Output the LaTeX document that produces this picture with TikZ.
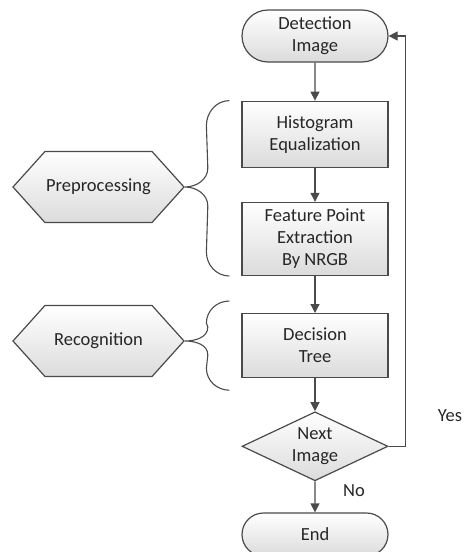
\documentclass[tikz,border=0pt]{standalone}
\usepackage{fontspec}
\setmainfont{Carlito}
\usetikzlibrary{positioning,shapes.geometric,shapes.misc,shapes.symbols,arrows.meta}
\definecolor{edgegray}{HTML}{4A4A4A}
\definecolor{textgray}{HTML}{262626}

\begin{document}
\begin{tikzpicture}[x=1pt,y=1pt,
				every node/.style={font=\fontsize{18.5}{22}\selectfont,text=textgray,align=center},
				box/.style={rectangle,draw=edgegray,line width=1.2pt,top color=white,bottom color=black!14,minimum width=146pt,inner sep=0pt},
				term/.style={box,rounded rectangle},
				decision/.style={box,diamond,aspect=2,minimum height=69pt},
				hexa/.style={box,signal,signal to=west and east,signal pointer angle=96,minimum width=171pt,minimum height=71pt},
				arrow/.style={draw=edgegray,line width=1.2pt,-{Triangle[length=9pt,width=9pt]}},
				brace/.style={draw=edgegray,line width=1.1pt}]
\useasboundingbox (0,0) rectangle (470,-552);
% main column
\node[term,minimum height=52pt] (det) at (315,-36) {Detection\\Image};
\node[box,minimum height=66pt,below=38pt of det] (hist) {Histogram\\Equalization};
\node[box,minimum height=73pt,below=34pt of hist] (feat) {Feature Point\\Extraction\\By NRGB};
\node[box,minimum height=64pt,below=37pt of feat] (dec) {Decision\\Tree};
\node[decision,below=33pt of dec] (next) {Next\\Image};
\node[term,minimum height=43pt,below=31pt of next] (end) {End};
% stage labels
\node[hexa] (prep) at (98.5,-187) {Preprocessing};
\node[hexa] (rec) at (98.5,-341) {Recognition};
\node (yes) at (450,-416) {Yes};
\node (no) at (354,-491) {No};
% connectors
\draw[arrow] (det) -- (hist);
\draw[arrow] (hist) -- (feat);
\draw[arrow] (feat) -- (dec);
\draw[arrow] (dec) -- (next);
\draw[arrow] (next) -- (end);
\draw[arrow] (next.east) -- ++(17,0) |- (det.east);
% braces
\draw[brace] ([xshift=-12pt]hist.north west)
	to[out=180,in=90] ++(-23,-25)
	-- ([xshift=23pt,yshift=19pt]prep.east)
	to[out=-90,in=0] (prep.east)
	to[out=0,in=90] ([xshift=23pt,yshift=-19pt]prep.east)
	-- ([xshift=-35pt,yshift=24pt]feat.south west)
	to[out=-90,in=180] ([xshift=-12pt]feat.south west);
\draw[brace] ([xshift=-12pt,yshift=12pt]dec.north west)
	to[out=180,in=90] ++(-23,-22)
	-- ([xshift=23pt,yshift=14pt]rec.east)
	to[out=-90,in=0] (rec.east)
	to[out=0,in=90] ([xshift=23pt,yshift=-14pt]rec.east)
	-- ([xshift=-35pt,yshift=10pt]dec.south west)
	to[out=-90,in=180] ([xshift=-12pt,yshift=-12pt]dec.south west);
\end{tikzpicture}
\end{document}
